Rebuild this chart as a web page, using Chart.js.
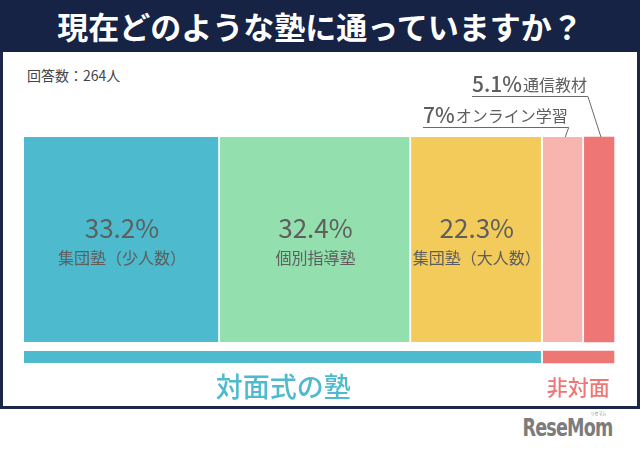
<!DOCTYPE html>
<html lang="ja">
<head>
<meta charset="utf-8">
<script src="https://cdn.jsdelivr.net/npm/chart.js@4"></script>
<style>
  html, body { margin:0; padding:0; background:#fff; }
  body { width:640px; height:453px; position:relative; overflow:hidden;
         font-family:"Noto Sans CJK JP", "Noto Sans", sans-serif; }
  .frame { position:absolute; left:0; top:0; width:634px; height:406px;
           border:3px solid #1b2648; border-top:none; }
  .head  { position:absolute; left:0; top:0; width:640px; height:52px; background:#172344;
           color:#fff; font-weight:700; font-size:31px; line-height:52px; text-align:center; }
  .count { position:absolute; left:27px; top:65px; font-size:14px; line-height:20px; color:#444; }
  .logo  { position:absolute; right:27px; top:413px; font-family:"DejaVu Sans Condensed", sans-serif;
           font-weight:700; font-size:25px; letter-spacing:-1px; color:#7c7c7c;
           transform:scaleX(0.78); transform-origin:right top; }
  .logo small { position:absolute; right:8px; top:-4px; font-size:5px; letter-spacing:0; font-weight:400;
                font-family:"Noto Sans CJK JP", sans-serif; }
  #wrap { position:absolute; left:0; top:0; width:640px; height:453px; }
</style>
</head>
<body>
<div class="frame"></div>
<div class="head">現在どのような塾に通っていますか？</div>
<div class="count">回答数：264人</div>
<div class="logo">ReseMom<small>リセマム</small></div>
<div id="wrap"><canvas id="c" width="640" height="453"></canvas></div>

<script>
// data
const categories   = ['集団塾（少人数）', '個別指導塾', '集団塾（大人数）', 'オンライン学習', '通信教材'];
const shares       = [33.2, 32.4, 22.3, 7, 5.1];
const groupNames   = ['対面式の塾', '非対面'];
const groupShares  = [87.9, 12.1];

// styles
const segColors   = ['#4dbacd', '#93dfae', '#f2cb5b', '#f8b4ae', '#ee7674'];
const groupColors = ['#4dbacd', '#ee7674'];
const textGray    = '#5e5e5e';
const FONT        = '"Noto Sans CJK JP", "Noto Sans", sans-serif';

const datasets = [];
shares.forEach((v, i) => {
  datasets.push({
    label: categories[i], data: [v, null],
    backgroundColor: segColors[i],
    borderColor: '#ffffff',
    borderWidth: i < shares.length - 1 ? { right: 2, left: 0, top: 0, bottom: 0 } : 0,
    borderSkipped: false,
    barThickness: 205, clip: false
  });
});
groupShares.forEach((v, i) => {
  datasets.push({
    label: groupNames[i], data: [null, v],
    backgroundColor: groupColors[i],
    borderColor: '#ffffff',
    borderWidth: i === 0 ? { right: 2, left: 0, top: 0, bottom: 0 } : 0,
    borderSkipped: false,
    barThickness: 12, clip: false
  });
});

// callout placement for the two thin segments
const callouts = [
  { idx: 3, left: 423, lineY: 127 },
  { idx: 4, left: 472, lineY: 96 }
];

const labelPlugin = {
  id: 'segmentLabels',
  afterDatasetsDraw(chart) {
    const ctx = chart.ctx;
    ctx.save();

    // big labels inside the wide segments
    ctx.textAlign = 'center';
    ctx.textBaseline = 'middle';
    ctx.fillStyle = textGray;
    for (let i = 0; i < 3; i++) {
      const bar = chart.getDatasetMeta(i).data[0];
      const cx = (bar.x + bar.base) / 2;
      ctx.font = '400 26px ' + FONT;
      ctx.fillText(shares[i].toFixed(1) + '%', cx, bar.y - 11);
      ctx.font = '400 16px ' + FONT;
      ctx.fillText(categories[i], cx, bar.y + 18);
    }

    // callouts
    ctx.textAlign = 'left';
    ctx.textBaseline = 'alphabetic';
    callouts.forEach(c => {
      const bar = chart.getDatasetMeta(c.idx).data[0];
      const cx = (bar.x + bar.base) / 2;
      const top = bar.y - bar.height / 2;
      const pct = shares[c.idx] + '%';
      ctx.fillStyle = textGray;
      ctx.font = '500 21px ' + FONT;
      ctx.fillText(pct, c.left, c.lineY - 4);
      const w1 = ctx.measureText(pct).width;
      ctx.font = '400 16px ' + FONT;
      ctx.fillText(categories[c.idx], c.left + w1 + 1, c.lineY - 5);
      const end = c.left + w1 + 1 + ctx.measureText(categories[c.idx]).width + 1;
      ctx.strokeStyle = '#6a6a6a';
      ctx.lineWidth = 1;
      ctx.beginPath();
      ctx.moveTo(c.left, c.lineY + 0.5);
      ctx.lineTo(end, c.lineY + 0.5);
      ctx.lineTo(cx + 2, top);
      ctx.stroke();
    });

    // group names under the brackets
    ctx.textAlign = 'center';
    ctx.textBaseline = 'middle';
    groupShares.forEach((v, i) => {
      const bar = chart.getDatasetMeta(shares.length + i).data[1];
      const cx = (bar.x + bar.base) / 2;
      ctx.fillStyle = groupColors[i];
      ctx.font = (i === 0 ? '500 27px ' : '500 21px ') + FONT;
      ctx.fillText(groupNames[i], cx, bar.y + 30);
    });
    ctx.restore();
  }
};

new Chart(document.getElementById('c'), {
  type: 'bar',
  data: { labels: ['main', 'group'], datasets },
  options: {
    indexAxis: 'y',
    responsive: false,
    animation: false,
    devicePixelRatio: 1,
    layout: { padding: { left: 24, right: 26, top: 239.5, bottom: 96 } },
    plugins: { legend: { display: false }, tooltip: { enabled: false } },
    scales: {
      x: { type: 'linear', stacked: true, min: 0, max: 100, display: false },
      y: { type: 'category', stacked: true, offset: false, display: false }
    }
  },
  plugins: [labelPlugin]
});
</script>
</body>
</html>
